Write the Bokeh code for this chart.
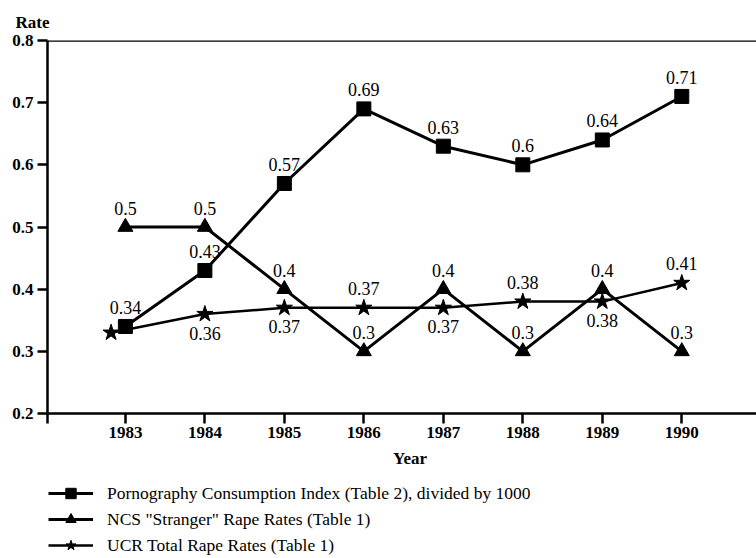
from bokeh.plotting import figure
from bokeh.layouts import column
from bokeh.models import (Range1d, Span, Legend, LegendItem, ColumnDataSource, FixedTicker, Label,
                          Title)
from bokeh.core.properties import value
from bokeh.embed import file_html
from bokeh.resources import INLINE

years = [1983, 1984, 1985, 1986, 1987, 1988, 1989, 1990]
porn = [0.34, 0.43, 0.57, 0.69, 0.63, 0.60, 0.64, 0.71]
porn_labels = ["0.34", "0.43", "0.57", "0.69", "0.63", "0.6", "0.64", "0.71"]
ncs = [0.50, 0.50, 0.40, 0.30, 0.40, 0.30, 0.40, 0.30]
ncs_labels = ["0.5", "0.5", "0.4", "0.3", "0.4", "0.3", "0.4", "0.3"]
ucr_years = [1982.82, 1984, 1985, 1986, 1987, 1988, 1989, 1990]
ucr = [0.33, 0.36, 0.37, 0.37, 0.37, 0.38, 0.38, 0.41]
ucr_labels = ["", "0.36", "0.37", "0.37", "0.37", "0.38", "0.38", "0.41"]
ucr_sides = ["above", "below", "below", "above", "below", "above", "below", "above"]
y_ticks = [0.2, 0.3, 0.4, 0.5, 0.6, 0.7, 0.8]
series_names = ["Pornography Consumption Index (Table 2), divided by 1000",
                'NCS "Stranger" Rape Rates (Table 1)',
                "UCR Total Rape Rates (Table 1)"]

SERIF = "Liberation Serif"
FS = "17px"
OFF = 19
XR = (1982.02, 1990.94)

src_p = ColumnDataSource(dict(x=years, y=porn))
src_n = ColumnDataSource(dict(x=years, y=ncs))
src_u = ColumnDataSource(dict(x=ucr_years, y=ucr))

p = figure(frame_width=709, frame_height=373, output_backend="svg", toolbar_location=None,
           x_range=Range1d(*XR), y_range=Range1d(0.2, 0.8),
           min_border_left=47, min_border_top=40, min_border_bottom=33, min_border_right=0)
p.outline_line_color = None
p.xgrid.visible = False
p.ygrid.visible = False

for ax in (p.xaxis[0], p.yaxis[0]):
    ax.axis_line_width = 2.5
    ax.axis_line_color = "black"
    ax.major_tick_line_width = 2.5
    ax.major_tick_line_color = "black"
    ax.major_tick_out = 10
    ax.major_tick_in = 0
    ax.minor_tick_line_color = None
    ax.major_label_text_font = SERIF
    ax.major_label_text_font_style = "bold"
    ax.major_label_text_font_size = FS
    ax.major_label_text_color = "black"
    ax.major_label_standoff = 4
p.xaxis.major_label_standoff = 3

p.xaxis.ticker = FixedTicker(ticks=[XR[0]] + years)
p.xaxis.major_label_overrides = {XR[0]: ""}
p.yaxis.ticker = FixedTicker(ticks=y_ticks)

p.add_layout(Title(text="Rate", align="left", offset=-32, vertical_align="top", standoff=14,
                   text_font=SERIF, text_font_style="bold", text_font_size=FS,
                   text_color="black"), "above")

p.add_layout(Span(location=0.8, dimension="width", line_color="black", line_width=2.5))

l1 = p.line(x="x", y="y", source=src_p, line_color="black", line_width=3)
m1 = p.scatter(x="x", y="y", source=src_p, marker="square", size=14, color="black")
l2 = p.line(x="x", y="y", source=src_n, line_color="black", line_width=3)
m2 = p.scatter(x="x", y="y", source=src_n, marker="triangle", size=15, color="black")
l3 = p.line(x="x", y="y", source=src_u, line_color="black", line_width=2.5)
m3 = p.scatter(x="x", y="y", source=src_u, marker="star", size=17, color="black")

def labels(xs, ys, texts, sides):
    src = ColumnDataSource(dict(x=xs, y=ys, t=texts,
                                off=[-OFF if s == "above" else OFF for s in sides]))
    p.text(x="x", y="y", text="t", y_offset="off", source=src,
           text_font=value(SERIF), text_font_size="18px", text_align="center",
           text_baseline="middle", text_color="black")

labels(years, porn, porn_labels, ["above"] * len(years))
labels(years, ncs, ncs_labels, ["above"] * len(years))
labels(ucr_years, ucr, ucr_labels, ucr_sides)

# bottom strip: x-axis title and legend (its renderers share the data, out of view)
p2 = figure(frame_width=756, frame_height=112, output_backend="svg", toolbar_location=None,
            x_range=Range1d(XR[0] - 47 * (XR[1] - XR[0]) / 709, XR[1]), y_range=Range1d(10, 11),
            x_axis_type=None, y_axis_type=None, min_border=0)
p2.outline_line_color = None
p2.grid.visible = False

p2.add_layout(Label(x=1985.99, y=100, x_units="data", y_units="screen", text="Year",
                    text_font=SERIF, text_font_style="bold", text_font_size=FS,
                    text_color="black", text_align="center", text_baseline="middle"))

k1 = p2.line(x="x", y="y", source=src_p, line_color="black", line_width=3)
s1 = p2.scatter(x="x", y="y", source=src_p, marker="square", color="black")
k2 = p2.line(x="x", y="y", source=src_n, line_color="black", line_width=3)
s2 = p2.scatter(x="x", y="y", source=src_n, marker="triangle", color="black")
k3 = p2.line(x="x", y="y", source=src_u, line_color="black", line_width=2.5)
s3 = p2.scatter(x="x", y="y", source=src_u, marker="star", color="black")

legend = Legend(items=[LegendItem(label=series_names[0], renderers=[k1, s1]),
                       LegendItem(label=series_names[1], renderers=[k2, s2]),
                       LegendItem(label=series_names[2], renderers=[k3, s3])],
                location=(48, 0), orientation="vertical",
                glyph_width=45, glyph_height=26, label_standoff=14, spacing=0,
                padding=0, margin=0, border_line_color=None, background_fill_alpha=0,
                label_text_font=SERIF, label_text_font_size="17.5px", label_text_color="black",
                label_height=26)
p2.add_layout(legend, "center")

open("out.html", "w").write(file_html(column(p, p2, spacing=0), INLINE))
